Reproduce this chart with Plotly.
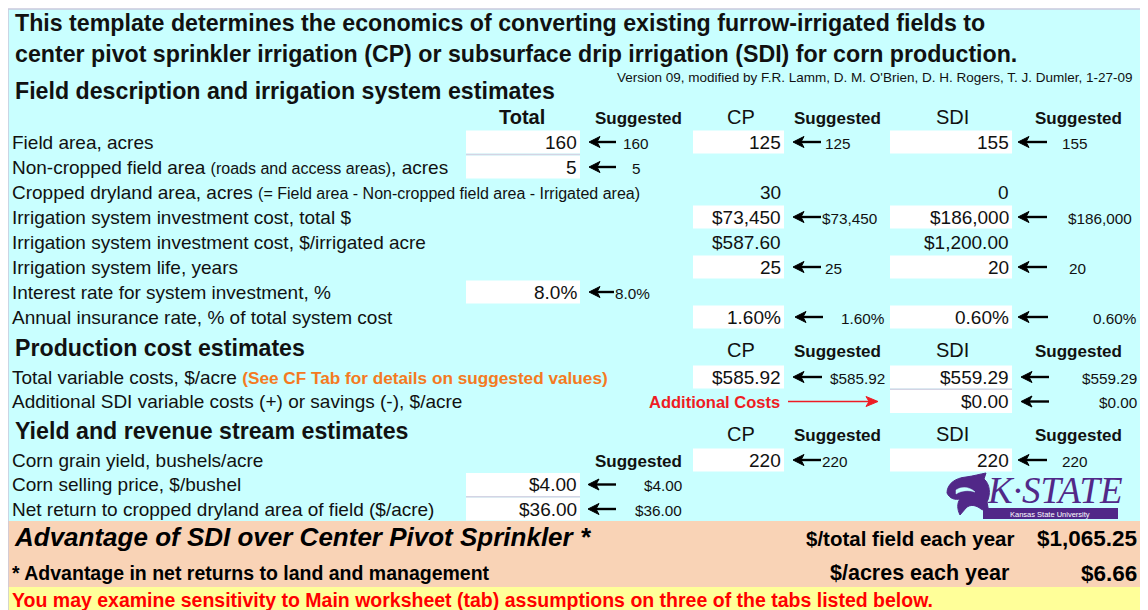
import plotly.graph_objects as go

# ---------------- data ----------------
title_lines = [
    "This template determines the economics of converting existing furrow-irrigated fields to",
    "center pivot sprinkler irrigation (CP) or subsurface drip irrigation (SDI) for corn production.",
]
version_text = "Version 09, modified by F.R. Lamm, D. M. O'Brien, D. H. Rogers, T. J. Dumler, 1-27-09"

section_titles = ["Field description and irrigation system estimates",
                  "Production cost estimates",
                  "Yield and revenue stream estimates"]

field_labels = [
    "Field area, acres",
    "Non-cropped field area <span style='font-size:16px'>(roads and access areas)</span>, acres",
    "Cropped dryland area, acres <span style='font-size:16px'>(= Field area - Non-cropped field area - Irrigated area)</span>",
    "Irrigation system investment cost, total $",
    "Irrigation system investment cost, $/irrigated acre",
    "Irrigation system life, years",
    "Interest rate for system investment, %",
    "Annual insurance rate, % of total system cost",
]
field_total = ["160", "5", "", "", "", "", "8.0%", ""]
field_total_sugg = ["160", "5", "", "", "", "", "8.0%", ""]
field_cp = ["125", "", "30", "$73,450", "$587.60", "25", "", "1.60%"]
field_cp_sugg = ["125", "", "", "$73,450", "", "25", "", "1.60%"]
field_sdi = ["155", "", "0", "$186,000", "$1,200.00", "20", "", "0.60%"]
field_sdi_sugg = ["155", "", "", "$186,000", "", "20", "", "0.60%"]

prod_labels = [
    "Total variable costs, $/acre <span style='color:#f47a22;font-size:17.2px'><b>(See CF Tab for details on suggested values)</b></span>",
    "Additional SDI variable costs (+) or savings (-), $/acre",
]
prod_cp = ["$585.92", ""]
prod_cp_sugg = ["$585.92", ""]
prod_sdi = ["$559.29", "$0.00"]
prod_sdi_sugg = ["$559.29", "$0.00"]
additional_costs_label = "Additional Costs"

yield_labels = [
    "Corn grain yield, bushels/acre",
    "Corn selling price, $/bushel",
    "Net return to cropped dryland area of field ($/acre)",
]
yield_total = ["", "$4.00", "$36.00"]
yield_total_sugg = ["", "$4.00", "$36.00"]
yield_cp = ["220", "", ""]
yield_cp_sugg = ["220", "", ""]
yield_sdi = ["220", "", ""]
yield_sdi_sugg = ["220", "", ""]

advantage_title = "Advantage of SDI over Center Pivot Sprinkler *"
advantage_note = "* Advantage in net returns to land and management"
advantage_labels = ["$/total field each year", "$/acres each year"]
advantage_values = ["$1,065.25", "$6.66"]
footer_text = "You may examine sensitivity to Main worksheet (tab) assumptions on three of the tabs listed below."

# ---------------- styling ----------------
FONT = "Liberation Sans, Arial, sans-serif"
CYAN = "#c9ffff"
PEACH = "#f9d3b6"
YELLOW = "#ffff99"
WHITE = "#ffffff"
PURPLE = "#512888"

LABEL_SIZE = 19
VAL_SIZE = 19
SUGG_SIZE = 15.3
SEC_SIZE = 23.2

shapes = []
annots = []


def text(x, y, s, size=16, color="#111111", anchor="left", bold=False, italic=False, family=FONT):
    if bold:
        s = "<b>" + s + "</b>"
    if italic:
        s = "<i>" + s + "</i>"
    dx = -2 if anchor == "left" else (2 if anchor == "right" else 0)
    annots.append(dict(x=x + dx, y=y, xref="x", yref="y", text=s, showarrow=False,
                       xanchor=anchor, yanchor="middle",
                       font=dict(family=family, size=size, color=color)))


def rect(x0, y0, x1, y1, fill):
    shapes.append(dict(type="rect", xref="x", yref="y", x0=x0, y0=y0, x1=x1, y1=y1,
                       fillcolor=fill, line=dict(width=0), layer="below"))


def arrow(xtip, xtail, y, color="#000000", w=2.4, hl=11, hw=5.5):
    d = 1 if xtail > xtip else -1
    shapes.append(dict(type="line", xref="x", yref="y", x0=xtip + d * (hl - 3), y0=y, x1=xtail, y1=y,
                       line=dict(color=color, width=w)))
    path = (f"M {xtip},{y} L {xtip + d * hl},{y - hw} L {xtip + d * (hl - 3)},{y} "
            f"L {xtip + d * hl},{y + hw} Z")
    shapes.append(dict(type="path", xref="x", yref="y", path=path,
                       fillcolor=color, line=dict(color=color, width=1)))


# backgrounds
rect(8, 9, 1160, 521, CYAN)
rect(8, 521, 1160, 587, PEACH)
rect(8, 587, 1160, 620, YELLOW)
shapes.append(dict(type="line", xref="x", yref="y", x0=8, y0=9, x1=1160, y1=9,
                   line=dict(color="#c8c8dc", width=1.5)))
shapes.append(dict(type="line", xref="x", yref="y", x0=8, y0=9, x1=8, y1=620,
                   line=dict(color="#c8c8dc", width=1.5)))

# title
text(15, 23, title_lines[0], size=SEC_SIZE, bold=True)
text(15, 54, title_lines[1], size=SEC_SIZE, bold=True)
text(1133, 77, version_text, size=13.5, anchor="right",
     family="Liberation Sans Narrow, Liberation Sans, Arial Narrow, sans-serif")

# column geometry
TOT = (466, 580)
CP = (693, 784)
SDI = (890, 1012)
BH = 23


def header_row(y, with_total):
    if with_total:
        text(522, y, "Total", size=20, bold=True, anchor="center")
        text(638, y + 1, "Suggested", size=17, bold=True, anchor="center")
    text(741, y, "CP", size=20, anchor="center")
    text(837, y + 1, "Suggested", size=17, bold=True, anchor="center")
    text(952, y, "SDI", size=20, anchor="center")
    text(1078, y + 1, "Suggested", size=17, bold=True, anchor="center")


def value_cell(col, y, val, box):
    if not val:
        return
    if box:
        rect(col[0], y - BH / 2, col[1], y + BH / 2, WHITE)
    text(col[1] - 3, y, val, size=VAL_SIZE, anchor="right")


def sugg_cell(tip, tail, y, s, x, anchor):
    if not s:
        return
    arrow(tip, tail, y)
    text(x, y + 1, s, size=SUGG_SIZE, anchor=anchor)


# section 1
text(15, 91, section_titles[0], size=SEC_SIZE, bold=True)
header_row(117, True)
Y1 = 142
P1 = 25
for i, lab in enumerate(field_labels):
    y = Y1 + i * P1
    text(12, y, lab, size=LABEL_SIZE)
    value_cell(TOT, y, field_total[i], bool(field_total_sugg[i]))
    value_cell(CP, y, field_cp[i], bool(field_cp_sugg[i]))
    value_cell(SDI, y, field_sdi[i], bool(field_sdi_sugg[i]))

# suggestion arrows/texts (section 1)
tot_pos = [(589, 616, 636, "center"), (589, 616, 636, "center"), None, None, None, None,
           (589, 614, 615, "left"), None]
cp_pos = [(793, 821, 825, "left"), None, None, (793, 821, 822, "left"), None,
          (793, 821, 825, "left"), None, (795, 823, 885, "right")]
sdi_pos = [(1018, 1047, 1062, "left"), None, None, (1018, 1047, 1068, "left"), None,
           (1018, 1047, 1069, "left"), None, (1018, 1048, 1137, "right")]
for i in range(len(field_labels)):
    y = Y1 + i * P1
    if tot_pos[i]:
        a, b, x, an = tot_pos[i]
        sugg_cell(a, b, y, field_total_sugg[i], x, an)
    if cp_pos[i]:
        a, b, x, an = cp_pos[i]
        sugg_cell(a, b, y, field_cp_sugg[i], x, an)
    if sdi_pos[i]:
        a, b, x, an = sdi_pos[i]
        sugg_cell(a, b, y, field_sdi_sugg[i], x, an)

shapes.append(dict(type="line", xref="x", yref="y", x0=466, y0=154.5, x1=580, y1=154.5,
                   line=dict(color="#d4d4e4", width=1.5)))

# section 2
text(15, 348, section_titles[1], size=SEC_SIZE, bold=True)
header_row(350, False)
Y2 = 377
P2 = 24.5
for i, lab in enumerate(prod_labels):
    y = Y2 + i * P2
    text(12, y, lab, size=LABEL_SIZE)
    value_cell(CP, y, prod_cp[i], bool(prod_cp_sugg[i]))
    value_cell(SDI, y, prod_sdi[i], bool(prod_sdi_sugg[i]))
    if prod_cp_sugg[i]:
        sugg_cell(793, 822, y, prod_cp_sugg[i], 885, "right")
    if prod_sdi_sugg[i]:
        sugg_cell(1021, 1049, y, prod_sdi_sugg[i], 1137, "right")
shapes.append(dict(type="line", xref="x", yref="y", x0=890, y0=Y2 + 12.2, x1=1012, y1=Y2 + 12.2,
                   line=dict(color="#d4d4e4", width=1.5)))
text(780, Y2 + P2, additional_costs_label, size=16.5, color="#ee1c24", anchor="right", bold=True)
arrow(878, 788, Y2 + P2, color="#ee1c24", w=1.6, hl=12, hw=5)

# section 3
text(15, 431, section_titles[2], size=SEC_SIZE, bold=True)
header_row(434, False)
Y3 = 460
P3 = 24.5
text(638, Y3 + 1, "Suggested", size=17, bold=True, anchor="center")
for i, lab in enumerate(yield_labels):
    y = Y3 + i * P3
    text(12, y, lab, size=LABEL_SIZE)
    value_cell(TOT, y, yield_total[i], bool(yield_total_sugg[i]))
    value_cell(CP, y, yield_cp[i], bool(yield_cp_sugg[i]))
    value_cell(SDI, y, yield_sdi[i], bool(yield_sdi_sugg[i]))
    if yield_total_sugg[i]:
        sugg_cell(588, 616, y, yield_total_sugg[i], 682, "right")
    if yield_cp_sugg[i]:
        sugg_cell(793, 821, y, yield_cp_sugg[i], 822, "left")
    if yield_sdi_sugg[i]:
        sugg_cell(1018, 1047, y, yield_sdi_sugg[i], 1062, "left")
shapes.append(dict(type="line", xref="x", yref="y", x0=466, y0=Y3 + P3 * 1.5, x1=580, y1=Y3 + P3 * 1.5,
                   line=dict(color="#d4d4e4", width=1.5)))

# K-State logo (wildcat head silhouette + wordmark)
cat = ("M 947,493 C 947,484 955,478 966,477 C 974,476 980,474 986,473 L 984,479 "
       "C 990,484 991,494 987,502 L 989,513 L 981,509 C 976,505 970,504 966,508 "
       "L 960,515 C 957,509 957,503 960,499 C 955,500 950,499 947,493 Z")
shapes.append(dict(type="path", xref="x", yref="y", path=cat, fillcolor=PURPLE,
                   line=dict(color=PURPLE, width=1)))
shapes.append(dict(type="path", xref="x", yref="y",
                   path="M 956,490 C 962,486 970,487 975,492 C 969,490 962,490 956,494 Z",
                   fillcolor=CYAN, line=dict(color=CYAN, width=0.5)))
text(1055, 490, "<i>K·STATE</i>", size=37, color=PURPLE, anchor="center",
     family="Liberation Serif, DejaVu Serif, serif")
shapes.append(dict(type="rect", xref="x", yref="y", x0=983, y0=508, x1=1118, y1=519,
                   fillcolor=PURPLE, line=dict(width=0)))
text(1050, 514, "Kansas State University", size=7.5, color="#ffffff", anchor="center")

# advantage block
text(14, 537, advantage_title, size=26, bold=True, italic=True, color="#000000")
text(12, 573, advantage_note, size=19.5, bold=True, color="#000000")
text(1015, 538, advantage_labels[0], size=20.5, bold=True, anchor="right", color="#000000")
text(1137, 538, advantage_values[0], size=22.5, bold=True, anchor="right", color="#000000")
text(1010, 573, advantage_labels[1], size=21.5, bold=True, anchor="right", color="#000000")
text(1137, 573, advantage_values[1], size=22.5, bold=True, anchor="right", color="#000000")

# footer
text(12, 600, footer_text, size=19.5, bold=True, color="#ff0000")

fig = go.Figure()
fig.update_layout(
    width=1140, height=602,
    margin=dict(l=0, r=0, t=0, b=0, pad=0),
    paper_bgcolor="#ffffff", plot_bgcolor="#ffffff",
    xaxis=dict(range=[8, 1148], visible=False, fixedrange=True),
    yaxis=dict(range=[610, 8], visible=False, fixedrange=True),
    shapes=shapes, annotations=annots, showlegend=False,
)
fig.write_html("out.html", config={"displayModeBar": False})
